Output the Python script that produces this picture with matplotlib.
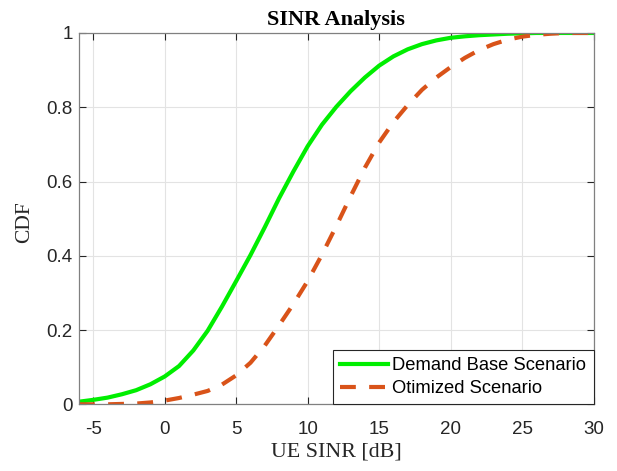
import matplotlib.pyplot as plt
import numpy as np

plt.rcParams['axes.unicode_minus'] = False

# SINR values [dB] and CDF values
sinr_base = [-6, -5, -4, -3, -2, -1, 0, 1, 2, 3, 4, 5, 6, 7, 8, 9, 10, 11, 12, 13, 14, 15,
             16, 17, 18, 19, 20, 21, 22, 23, 24, 25, 26, 27, 28, 29, 30]
cdf_base = [0.007, 0.012, 0.018, 0.027, 0.038, 0.054, 0.075, 0.103, 0.145, 0.198, 0.263,
            0.332, 0.402, 0.477, 0.555, 0.627, 0.695, 0.753, 0.801, 0.843, 0.880, 0.912,
            0.937, 0.956, 0.970, 0.980, 0.987, 0.991, 0.994, 0.996, 0.998, 0.999, 1.0,
            1.0, 1.0, 1.0, 1.0]

sinr_opt = [-6, -5, -4, -3, -2, -1, 0, 1, 2, 3, 4, 5, 6, 7, 8, 9, 10, 11, 12, 13, 14, 15,
            16, 17, 18, 19, 20, 21, 22, 23, 24, 25, 26, 27, 28, 29, 30]
cdf_opt = [0.0, 0.0, 0.0, 0.001, 0.002, 0.005, 0.010, 0.017, 0.026, 0.036, 0.053, 0.078,
           0.112, 0.158, 0.213, 0.270, 0.332, 0.403, 0.480, 0.560, 0.637, 0.705, 0.760,
           0.806, 0.847, 0.880, 0.908, 0.933, 0.954, 0.970, 0.982, 0.990, 0.995, 0.998,
           1.0, 1.0, 1.0]

x_ticks = [-5, 0, 5, 10, 15, 20, 25, 30]
y_ticks = [0, 0.2, 0.4, 0.6, 0.8, 1]
y_tick_labels = ['0', '0.2', '0.4', '0.6', '0.8', '1']

fig = plt.figure(figsize=(6.17, 4.71), dpi=100)
ax = fig.add_axes([0.128, 0.1416, 0.834, 0.7884])

ax.plot(sinr_base, cdf_base, color='#00ee00', lw=3, label='Demand Base Scenario')
ax.plot(sinr_opt, cdf_opt, color='#D95319', lw=3, linestyle=(0, (3.8, 3.2)),
        dash_capstyle='butt', label='Otimized Scenario')

ax.set_xlim(-6, 30)
ax.set_ylim(0, 1)
ax.set_xticks(x_ticks)
ax.set_yticks(y_ticks)
ax.set_yticklabels(y_tick_labels)

ax.grid(True, color='#e3e3e3', linewidth=0.8)
ax.set_axisbelow(True)
ax.tick_params(direction='in', top=True, right=True, length=5, width=0.8,
               colors='#262626', labelsize=13.5)
ax.tick_params(axis='x', pad=12)
ax.tick_params(axis='y', pad=4.5)
for lbl in ax.get_xticklabels() + ax.get_yticklabels():
    lbl.set_fontfamily('Liberation Sans')
for s in ax.spines.values():
    s.set_color('#808080')
    s.set_linewidth(0.9)

ax.set_title('SINR Analysis', fontfamily='Liberation Serif', fontweight='bold',
             fontsize=16, pad=6)
ax.set_xlabel('UE SINR [dB]', fontfamily='Liberation Serif', fontsize=15.8, color='#262626')
ax.set_ylabel('CDF', fontfamily='Liberation Serif', fontsize=15.5, color='#262626')
ax.xaxis.set_label_coords(0.5, -0.104)
ax.yaxis.set_label_coords(-0.088, 0.49)

leg = ax.legend(loc='lower right', borderaxespad=0, fancybox=False, framealpha=1,
                edgecolor='#262626', prop={'family': 'Liberation Sans', 'size': 13.2},
                handlelength=2.6, handletextpad=0.25, borderpad=0.4, labelspacing=0.3)
leg.get_frame().set_linewidth(0.8)

fig.savefig('out.png', dpi=100)
